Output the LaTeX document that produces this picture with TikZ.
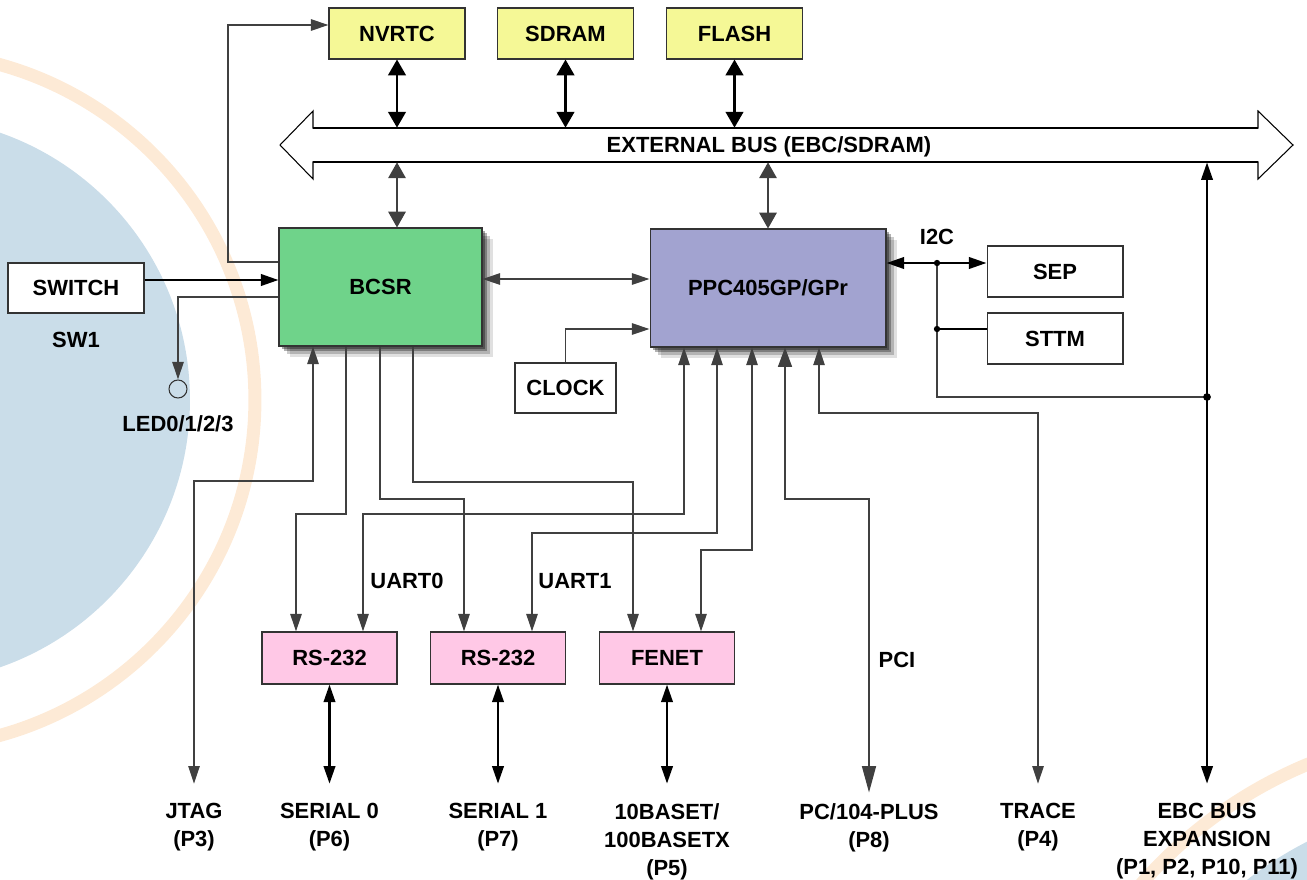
\documentclass[tikz,border=0pt]{standalone}
\usepackage{fontspec}
\setmainfont{Liberation Sans}
\usetikzlibrary{arrows.meta, shadows}

\definecolor{memyellow}{HTML}{F5F896}
\definecolor{bcsrgreen}{HTML}{6FD38A}
\definecolor{ppcblue}{HTML}{A2A3D0}
\definecolor{iopink}{HTML}{FFC8E6}
\definecolor{ringblue}{HTML}{CADDE9}
\definecolor{ringorange}{HTML}{FDEAD6}

\begin{document}
\begin{tikzpicture}[x=0.02cm, y=-0.02cm,
    box/.style = {rectangle, draw=black!80, line width=0.6pt, inner sep=0pt},
    memory/.style = {box, fill=memyellow, minimum width=2.72cm, minimum height=1.02cm},
    device/.style = {box, fill=white, minimum width=2.72cm, minimum height=1.02cm},
    iobox/.style = {box, fill=iopink, minimum width=2.7cm, minimum height=1.04cm},
    chipshadow/.style = {general shadow={fill=black, opacity=0.12, shadow xshift=6pt, shadow yshift=-6pt},
                         general shadow={fill=black, opacity=0.2, shadow xshift=4.5pt, shadow yshift=-4.5pt},
                         general shadow={fill=black, opacity=0.3, shadow xshift=3pt, shadow yshift=-3pt},
                         general shadow={fill=black, opacity=0.35, shadow xshift=1.5pt, shadow yshift=-1.5pt}},
    chip/.style = {box, minimum height=2.36cm, chipshadow},
    jack/.style = {align=center, anchor=north, inner sep=0pt},
    link/.style = {draw=black!75, line width=0.7pt},
    thick link/.style = {draw=black, line width=1.4pt},
    bus tips/.style = {>={Triangle[length=9pt, width=10pt]}},
    >={Triangle[length=10pt, width=6.5pt]},
    font=\fontsize{12.5}{15.9}\selectfont\bfseries]
  \useasboundingbox (0, 0) rectangle (1307, 879);

  % Background rings.
  \begin{scope}
    \clip (0, 0) rectangle (1307, 879);
    \fill [ringblue] (-93, 400) circle (5.66cm);
    \draw [ringorange, line width=7.4pt] (-93, 400) circle (6.96cm);
    \fill [ringblue] (1480, 1180) circle (7.6cm);
    \draw [ringorange, line width=7.4pt] (1480, 1180) circle (9cm);
  \end{scope}

  % Memories.
  \node at (397, 33.5) [memory, name=NVRTC] {NVRTC};
  \node at (565.5, 33.5) [memory, name=SDRAM] {SDRAM};
  \node at (734.5, 33.5) [memory, name=FLASH] {FLASH};

  % External bus.
  \draw [fill=white, line width=0.6pt]
        (313, 128) -- (1258, 128) -- (1258, 111) -- (1293, 145) -- (1258, 179)
        -- (1258, 162) -- (313, 162) -- (313, 179) -- (280, 145) -- (313, 111) -- cycle;
  \draw [line width=1.4pt] (313, 128) -- (1258, 128) (313, 162) -- (1258, 162);
  \node at (785.5, 145) [minimum width=18.9cm, minimum height=0.68cm, inner sep=0pt, name=Bus] {};
  \node at (769, 147) [name=BusLabel] {EXTERNAL BUS (EBC/SDRAM)};

  % Board control and processor.
  \node at (380.5, 287) [chip, fill=bcsrgreen, minimum width=4.06cm, name=BCSR] {BCSR};
  \node at (768, 288) [chip, fill=ppcblue, minimum width=4.72cm, name=PPC] {PPC405GP/GPr};
  \node at (76, 288) [device, minimum height=1cm, name=SWITCH] {SWITCH};
  \node at (76, 340) [name=SWLabel] {SW1};
  \node at (178, 389) [circle, draw=black!80, line width=0.6pt, minimum size=0.36cm, inner sep=0pt, name=LED] {};
  \node at (178, 424) [name=LEDLabel] {LED0/1/2/3};
  \node at (565.5, 388) [device, minimum width=2.02cm, minimum height=1cm, name=CLOCK] {CLOCK};
  \node at (1055, 271.5) [device, name=SEP] {SEP};
  \node at (1055, 338.5) [device, name=STTM] {STTM};
  \node at (937, 237) [name=I2CLabel] {I2C};

  % Serial and Ethernet.
  \node at (329.5, 658) [iobox, name=UARTZero] {RS-232};
  \node at (498, 658) [iobox, name=UARTOne] {RS-232};
  \node at (667, 658) [iobox, name=FENET] {FENET};
  \node at (407, 581) [name=UARTZeroLabel] {UART0};
  \node at (575, 581) [name=UARTOneLabel] {UART1};
  \node at (897, 660) [name=PCILabel] {PCI};

  % Connectors.
  \node at (194, 803) [jack, name=JTAG] {JTAG\\(P3)};
  \node at (329.5, 803) [jack, name=SerialZero] {SERIAL 0\\(P6)};
  \node at (498, 803) [jack, name=SerialOne] {SERIAL 1\\(P7)};
  \node at (667, 803) [jack, name=Ethernet] {10BASET/\\100BASETX\\(P5)};
  \node at (869, 803) [jack, name=PCPlus] {PC/104-PLUS\\(P8)};
  \node at (1038, 803) [jack, name=TRACE] {TRACE\\(P4)};
  \node at (1207, 803) [jack, name=EBC] {EBC BUS\\EXPANSION\\(P1, P2, P10, P11)};

  \coordinate (I2C) at (937, 263);
  \coordinate (EBCJoin) at (EBC.north |- 0,397);

  % Bus links.
  \draw [thick link, bus tips, <->] (NVRTC)
             to (NVRTC |- Bus.north);
  \draw [thick link, bus tips, <->] (SDRAM)
             to (SDRAM |- Bus.north);
  \draw [thick link, bus tips, <->] (FLASH)
             to (FLASH |- Bus.north);
  \draw [link, bus tips, <->] (Bus.south -| NVRTC)
             to (BCSR.north -| NVRTC);
  \draw [link, bus tips, <->] (Bus.south -| PPC)
             to (PPC);
  \draw [thick link, <->] (Bus.south -| EBC)
             to ([yshift=11pt]EBC.north);

  % Board control.
  \draw [link, <->] (BCSR.east |- 0,279)
             to (PPC.west |- 0,279);
  \draw [thick link, ->] (SWITCH.east |- 0,280)
             to (BCSR.west |- 0,280);
  \draw [link, ->] (BCSR.west |- 0,297)
             -| (LED.north);
  \draw [link, ->] (BCSR.west |- 0,262)
             -| (228, 25) -- (NVRTC.west |- 0,25);
  \draw [link, ->] (CLOCK.north)
             |- (PPC.west |- 0,329);

  % BCSR side.
  \draw [link, <->] (BCSR.south -| 313,0)
             |- (194, 481) -- ([yshift=11pt]JTAG.north);
  \draw [link, ->] (BCSR.south -| 346,0)
             |- (296, 514) -- (UARTZero.north -| 296,0);
  \draw [link, ->] (BCSR.south -| 380,0)
             |- (464, 499) -- (UARTOne.north -| 464,0);
  \draw [link, ->] (BCSR.south -| 413,0)
             |- (633, 482) -- (FENET.north -| 633,0);

  % Processor side.
  \draw [link, <->] (PPC.south -| 684,0)
             |- (363, 514) -- (UARTZero.north -| 363,0);
  \draw [link, <->] (PPC.south -| 717,0)
             |- (532, 533) -- (UARTOne.north -| 532,0);
  \draw [link, <->] (PPC.south -| 752,0)
             |- (701, 550) -- (FENET.north -| 701,0);
  \draw [link, {Triangle[length=11pt, width=8pt]}-{Triangle[length=15pt, width=8pt]}] (PPC.south -| 785,0)
             |- (PCPlus.north |- 0,499) -- ([yshift=6pt]PCPlus.north);
  \draw [link, <->] (PPC.south -| 819,0)
             |- (TRACE.north |- 0,413) -- ([yshift=11pt]TRACE.north);

  % Ports.
  \draw [thick link, <->] (UARTZero)
             to ([yshift=11pt]SerialZero.north);
  \draw [thick link, <->] (UARTOne)
             to ([yshift=11pt]SerialOne.north);
  \draw [thick link, <->] (FENET)
             to ([yshift=11pt]Ethernet.north);

  % I2C.
  \draw [thick link, <->] (PPC.east |- I2C)
             to (SEP.west |- I2C);
  \draw [link] (I2C)
             |- (EBCJoin);
  \draw [thick link] (I2C |- 0,329)
             to (STTM.west |- 0,329);
  \fill (I2C) circle (1.8pt);
  \fill (I2C |- 0,329) circle (1.8pt);
  \fill (EBCJoin) circle (2.2pt);
\end{tikzpicture}
\end{document}
